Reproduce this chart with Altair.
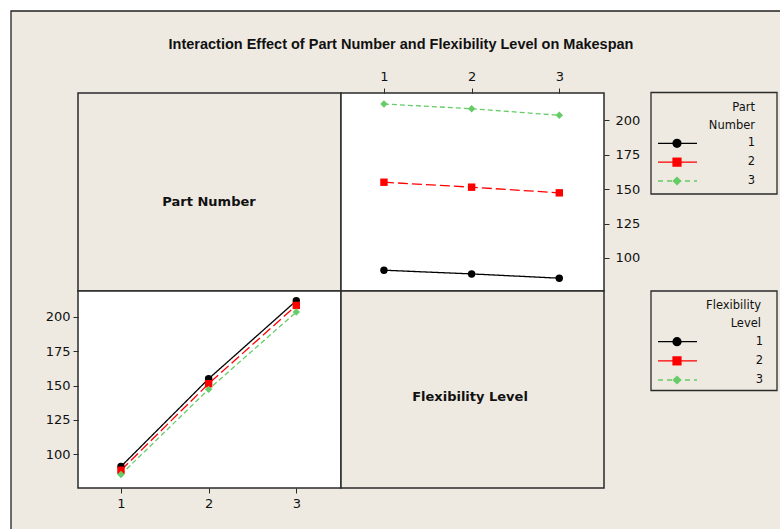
import altair as alt
import pandas as pd

# ---------------- data ----------------
levels = [1, 2, 3]
series_labels = ["1", "2", "3"]
# mean makespan for each part number (rows) at flexibility levels 1, 2, 3
makespan_part1 = [91.1, 88.4, 85.3]
makespan_part2 = [155.0, 151.4, 147.3]
makespan_part3 = [211.8, 208.4, 203.6]
x_ticks = [1, 2, 3]
y_ticks = [100, 125, 150, 175, 200]

title_text = "Interaction Effect of Part Number and Flexibility Level on Makespan"
row_label = "Part Number"
col_label = "Flexibility Level"
legend1_title = ["Part", "Number"]
legend2_title = ["Flexibility", "Level"]

series_colors = ["#000000", "#FF0000", "#66CC66"]
series_shapes = ["circle", "square", "diamond"]

rows = []
for p, vals in zip(series_labels, [makespan_part1, makespan_part2, makespan_part3]):
    for f, v in zip(levels, vals):
        rows.append({"part": int(p), "flex": f, "part_s": p, "flex_s": str(f), "makespan": v})
df = pd.DataFrame(rows)
leg_df = pd.DataFrame({"s": series_labels})
dummy = pd.DataFrame({"k": [0]})

# ---------------- style ----------------
W, H = 780, 529
BG = "#EEEAE1"
EDGE = "#2a2a2a"
TICK_FONT = "DejaVu Sans"

color_scale = alt.Scale(domain=series_labels, range=series_colors)
shape_scale = alt.Scale(domain=series_labels, range=series_shapes)


def axis(orient, offset, values, pad):
    return alt.Axis(orient=orient, offset=offset, values=values, format="d", domain=False,
                    grid=False, ticks=True, tickSize=5, tickWidth=1, tickColor=EDGE,
                    labelFont=TICK_FONT, labelFontSize=13, labelColor="#111",
                    labelPadding=pad, title=None, labelFlush=False, labelOverlap=False,
                    zindex=2)


def rect(x0, y0, x1, y1, fill, stroke=EDGE, sw=1.5):
    return alt.Chart(dummy).mark_rect(fill=fill, stroke=stroke, strokeWidth=sw).encode(
        x=alt.value(x0), x2=alt.value(x1), y=alt.value(y0), y2=alt.value(y1))


def text(t, x, y, size, font, weight="normal", align="center", baseline="alphabetic", lh=None):
    kw = {}
    if lh is not None:
        kw["lineHeight"] = lh
    return alt.Chart(dummy).mark_text(text=t, font=font, fontSize=size, fontWeight=weight,
                                      align=align, baseline=baseline, color="#111", **kw).encode(
        x=alt.value(x), y=alt.value(y))


# panel geometry
PX0, PX1, PX2 = 78, 341, 604
PY0, PY1, PY2 = 93, 291, 488

frame = rect(11, 11, W + 20, H + 20, BG, "#222", 1.3)
p_tl = rect(PX0, PY0, PX1, PY1, BG)
p_tr = rect(PX1, PY0, PX2, PY1, "white")
p_bl = rect(PX0, PY1, PX1, PY2, "white")
p_br = rect(PX1, PY1, PX2, PY2, BG)

dash_plot = alt.Scale(domain=series_labels, range=[[1, 0], [10, 4], [5, 3]])
size_plot = alt.Scale(domain=series_labels, range=[55, 55, 105])


def panel(xfield, sfield, sx, sy, xax, yax):
    line = alt.Chart(df).mark_line(strokeWidth=1.3).encode(
        x=alt.X(f"{xfield}:Q", scale=sx, axis=xax),
        y=alt.Y("makespan:Q", scale=sy, axis=yax),
        color=alt.Color(f"{sfield}:N", scale=color_scale, legend=None),
        strokeDash=alt.StrokeDash(f"{sfield}:N", scale=dash_plot, legend=None),
    )
    pts = alt.Chart(df).mark_point(filled=True, opacity=1).encode(
        x=alt.X(f"{xfield}:Q", scale=sx, axis=xax),
        y=alt.Y("makespan:Q", scale=sy, axis=yax),
        color=alt.Color(f"{sfield}:N", scale=color_scale, legend=None),
        shape=alt.Shape(f"{sfield}:N", scale=shape_scale, legend=None),
        size=alt.Size(f"{sfield}:N", scale=size_plot, legend=None),
    )
    return alt.layer(line, pts)


tr = panel(
    "flex", "part_s",
    alt.Scale(domain=[0.51, 3.51], range=[PX1, PX2], zero=False, nice=False),
    alt.Scale(domain=[76, 219.8], range=[PY1, PY0], zero=False, nice=False),
    axis("top", -PY0, x_ticks, 5),
    axis("right", -(W - PX2), y_ticks, 6),
)
bl = panel(
    "part", "flex_s",
    alt.Scale(domain=[0.51, 3.51], range=[PX0, PX1], zero=False, nice=False),
    alt.Scale(domain=[75.5, 218.9], range=[PY2, PY1], zero=False, nice=False),
    axis("bottom", -(H - PY2), x_ticks, 4),
    axis("left", -PX0, y_ticks, 3),
)

dash_leg = alt.Scale(domain=series_labels, range=[[1, 0], [1, 0], [5, 4]])
size_leg = alt.Scale(domain=series_labels, range=[85, 85, 140])


def legend(y_first, y_last, x_text):
    ys = alt.Scale(type="point", domain=series_labels, range=[y_first, y_last], padding=0)
    r = alt.Chart(leg_df).mark_rule(strokeWidth=1.3).encode(
        x=alt.value(658), x2=alt.value(697),
        y=alt.Y("s:N", scale=ys, axis=None),
        color=alt.Color("s:N", scale=color_scale, legend=None),
        strokeDash=alt.StrokeDash("s:N", scale=dash_leg, legend=None),
    )
    p = alt.Chart(leg_df).mark_point(filled=True, opacity=1).encode(
        x=alt.value(677),
        y=alt.Y("s:N", scale=ys, axis=None),
        color=alt.Color("s:N", scale=color_scale, legend=None),
        shape=alt.Shape("s:N", scale=shape_scale, legend=None),
        size=alt.Size("s:N", scale=size_leg, legend=None),
    )
    t = alt.Chart(leg_df).mark_text(align="right", baseline="middle", font=TICK_FONT,
                                    fontSize=11.5, color="#111").encode(
        x=alt.value(x_text),
        y=alt.Y("s:N", scale=ys, axis=None),
        text="s:N",
    )
    return alt.layer(r, p, t)


box1 = rect(651, 92.5, 777, 194, BG, EDGE, 1.3)
box2 = rect(651, 291, 777, 390.5, BG, EDGE, 1.3)
lg1 = legend(143.3, 181, 755)
lg2 = legend(341.7, 380, 763)
lt1 = text(legend1_title, 755, 110.5, 11.5, TICK_FONT, align="right", lh=18.5)
lt2 = text(legend2_title, 761, 308.5, 11.5, TICK_FONT, align="right", lh=18.5)

title = text(title_text, 401, 49.3, 14.5, "Liberation Sans", "bold")
lab_row = text(row_label, 209, 205.7, 13, "DejaVu Sans", "bold")
lab_col = text(col_label, 470, 401, 13, "DejaVu Sans", "bold")

chart = alt.layer(
    frame, p_tl, p_tr, p_bl, p_br, tr, bl, box1, box2, lg1, lg2, lt1, lt2, title, lab_row, lab_col
).resolve_scale(
    x="independent", y="independent", strokeDash="independent", size="independent"
).properties(
    width=W, height=H, padding=0, autosize=alt.AutoSizeParams(type="none"), background="white"
).configure_view(stroke=None)

chart.save("out.html", embed_options={"renderer": "svg", "actions": False})
